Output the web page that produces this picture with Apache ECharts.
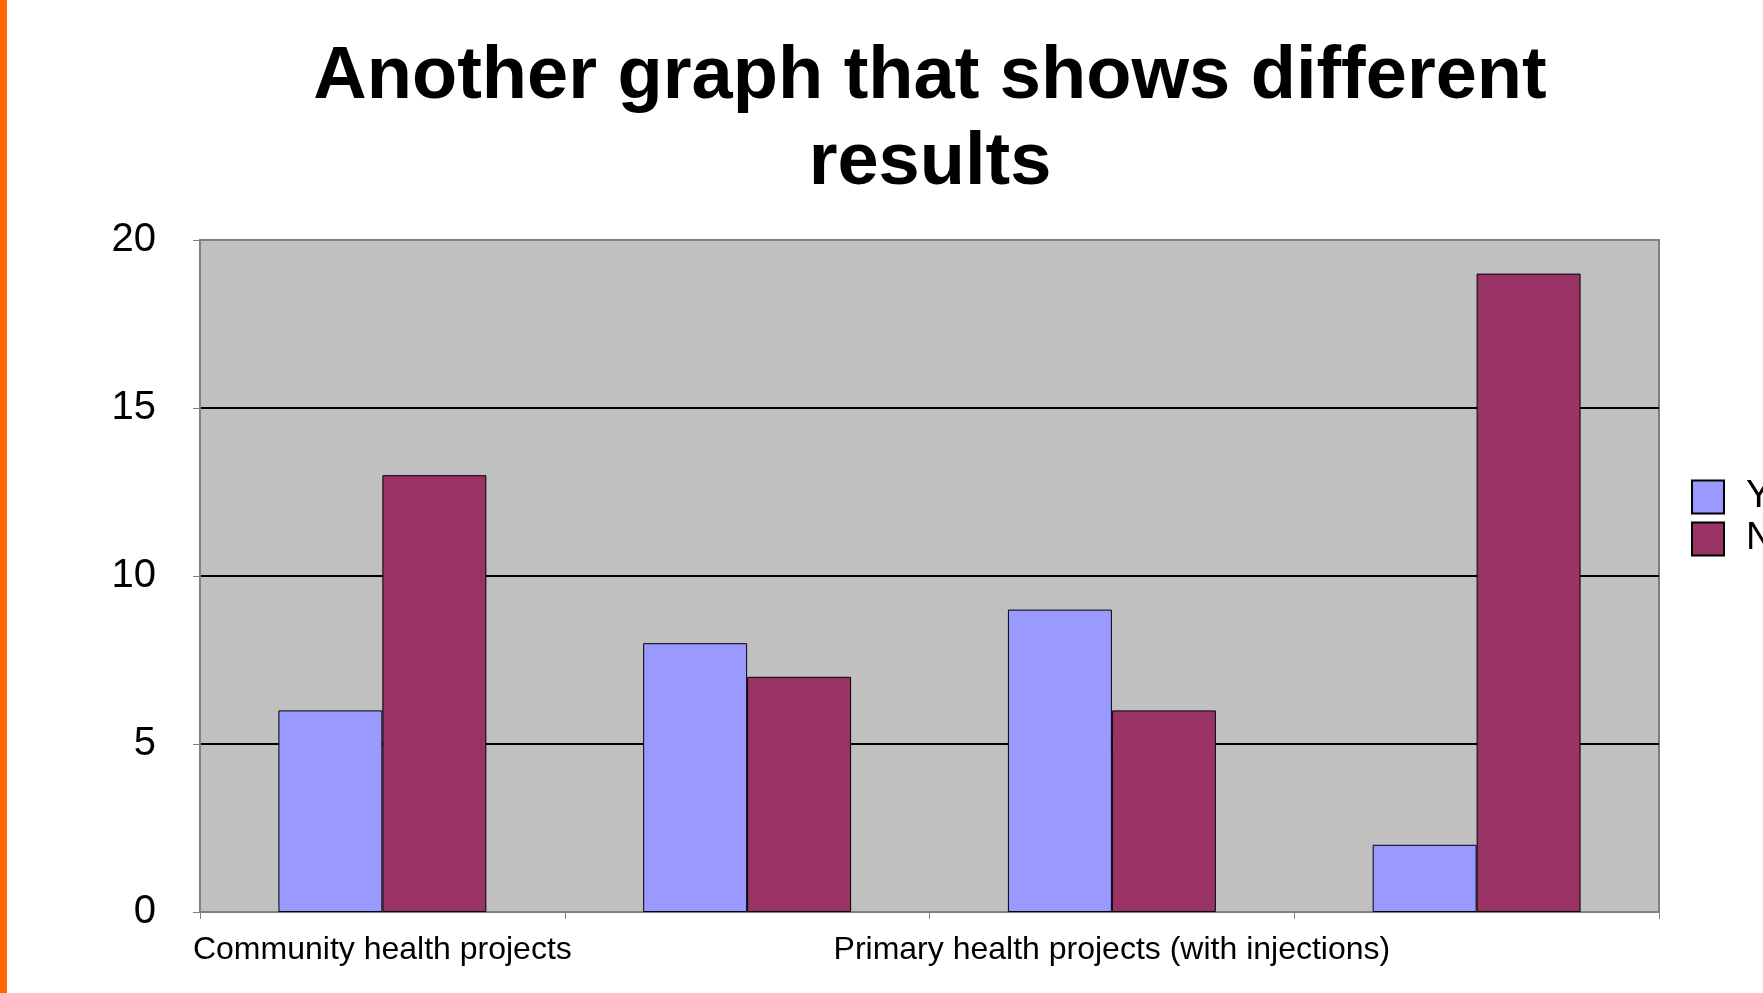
<!DOCTYPE html>
<html>
<head>
<meta charset="utf-8">
<title>Another graph that shows different results</title>
<script src="https://cdn.jsdelivr.net/npm/echarts@6/dist/echarts.min.js"></script>
<style>
  html, body { margin: 0; padding: 0; background: #fff; }
  #chart { width: 1763px; height: 993px; }
</style>
</head>
<body>
<div id="chart"></div>
<script>
// categories (2nd and 4th are not labelled in the picture)
const categories = ['Community health projects', 'Community health projects (without injections)', 'Primary health projects (with injections)', 'Primary health projects (without injections)'];
const seriesNames = ['Yes', 'No'];
const yesValues = [6, 8, 9, 2];
const noValues = [13, 7, 6, 19];
const yTicks = [0, 5, 10, 15, 20];

const chart = echarts.init(document.getElementById('chart'));

const option = {
  backgroundColor: '#ffffff',
  animation: false,
  title: {
    text: 'Another graph that shows different\nresults',
    left: 925,
    textAlign: 'center',
    top: 30,
    textStyle: {
      fontFamily: 'Liberation Sans, Arial, sans-serif',
      fontSize: 74,
      fontWeight: 'bold',
      color: '#000',
      lineHeight: 86
    }
  },
  graphic: [{
    type: 'rect',
    left: 0,
    top: 0,
    shape: { width: 7, height: 993 },
    style: { fill: '#ff6600' }
  }],
  legend: {
    orient: 'vertical',
    left: 1691,
    top: 478,
    itemWidth: 32,
    itemHeight: 33,
    itemGap: 4,
    icon: 'rect',
    padding: 0,
    textStyle: {
      fontFamily: 'Liberation Sans, Arial, sans-serif',
      fontSize: 38,
      color: '#000',
      lineHeight: 33,
      padding: [0, 0, 0, 17]
    },
    data: seriesNames
  },
  grid: {
    left: 200,
    right: 104,
    top: 240,
    bottom: 81,
    show: true,
    backgroundColor: '#c0c0c0',
    borderColor: '#808080',
    borderWidth: 2
  },
  xAxis: {
    type: 'category',
    data: categories,
    axisLine: { show: true, lineStyle: { color: '#808080', width: 2 } },
    axisTick: { show: true, interval: 0, length: 7, lineStyle: { color: '#808080', width: 1 } },
    axisLabel: {
      interval: 1,
      margin: 22,
      fontFamily: 'Liberation Sans, Arial, sans-serif',
      fontSize: 32,
      color: '#000'
    },
    splitLine: { show: false }
  },
  yAxis: {
    type: 'value',
    min: yTicks[0],
    max: yTicks[yTicks.length - 1],
    interval: 5,
    axisLine: { show: true, lineStyle: { color: '#808080', width: 2 } },
    axisTick: { show: true, length: 7, lineStyle: { color: '#808080', width: 1 } },
    axisLabel: {
      margin: 44,
      fontFamily: 'Liberation Sans, Arial, sans-serif',
      fontSize: 40,
      color: '#000'
    },
    splitLine: {
      show: true,
      lineStyle: { color: ['#808080', '#000000', '#000000', '#000000', '#808080'], width: 2 }
    }
  },
  series: [{
    name: seriesNames[0],
    type: 'bar',
    data: yesValues,
    barGap: '0%',
    barCategoryGap: '43%',
    itemStyle: { color: '#9999ff', borderColor: '#000', borderWidth: 1 }
  }, {
    name: seriesNames[1],
    type: 'bar',
    data: noValues,
    barGap: '0%',
    barCategoryGap: '43%',
    itemStyle: { color: '#993366', borderColor: '#000', borderWidth: 1 }
  }]
};

chart.setOption(option);
</script>
</body>
</html>
